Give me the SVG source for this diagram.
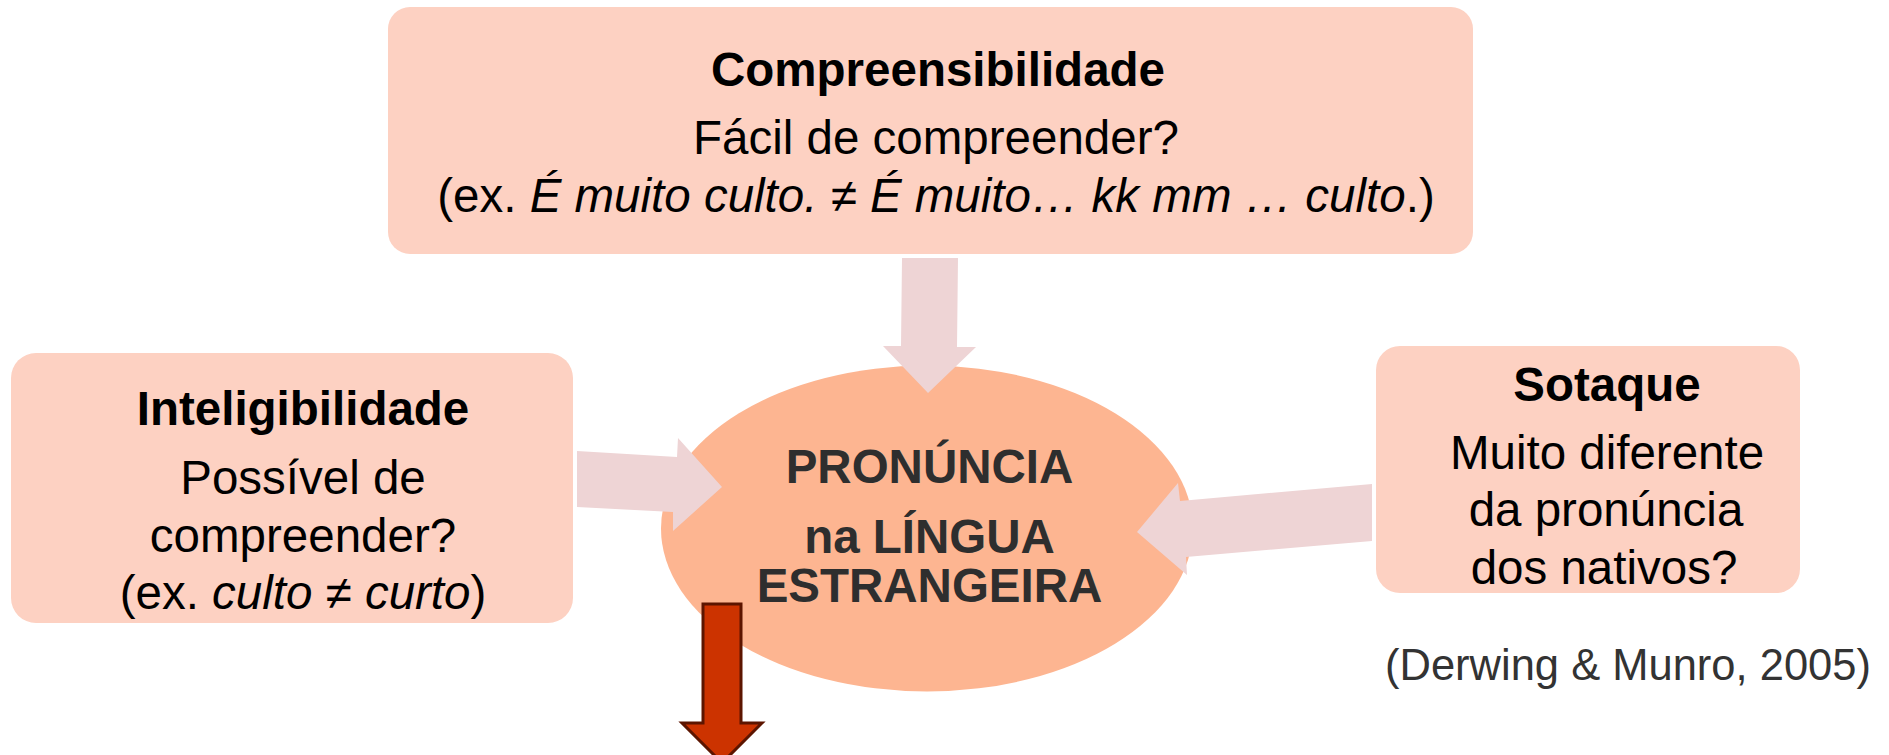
<svg xmlns="http://www.w3.org/2000/svg" width="1889" height="755" viewBox="0 0 1889 755">
<style>
.box{fill:#FDD1C2;}
.ell{fill:#FDB591;}
.t{font-family:"Liberation Sans",Arial,sans-serif;font-size:47.5px;fill:#000;text-anchor:middle;}
.b{font-weight:bold;}
.i{font-style:italic;}
.et{font-family:"Liberation Sans",Arial,sans-serif;font-size:47.5px;font-weight:bold;fill:#2E2E2E;text-anchor:middle;}
.cit{font-family:"Liberation Sans",Arial,sans-serif;font-size:43.5px;fill:#333;text-anchor:middle;}
.conn{fill:#EED4D5;}
.red{fill:#CC3300;stroke:#5C1500;stroke-width:3;stroke-linejoin:miter;}
</style>
<rect width="1889" height="755" fill="#fff"/>
<g id="compreensibilidade">
<rect class="box" x="388" y="7" width="1085" height="247" rx="22"/>
<text class="t b" x="938" y="86">Compreensibilidade</text>
<text class="t" x="936" y="154">Fácil de compreender?</text>
<text class="t" x="936" y="212">(ex. <tspan class="i">É muito culto. ≠ É muito… kk mm … culto</tspan>.)</text>
</g>
<g id="inteligibilidade">
<rect class="box" x="11" y="353" width="562" height="270" rx="25"/>
<text class="t b" x="303" y="425">Inteligibilidade</text>
<text class="t" x="303" y="494">Possível de</text>
<text class="t" x="303" y="552">compreender?</text>
<text class="t" x="303" y="609">(ex. <tspan class="i">culto ≠ curto</tspan>)</text>
</g>
<g id="sotaque">
<rect class="box" x="1376" y="346" width="424" height="247" rx="24"/>
<text class="t b" x="1607" y="401">Sotaque</text>
<text class="t" x="1607" y="469">Muito diferente</text>
<text class="t" x="1606" y="526">da pronúncia</text>
<text class="t" x="1604" y="584">dos nativos?</text>
</g>
<g id="pronuncia">
<ellipse class="ell" cx="927" cy="528.5" rx="266" ry="163"/>
<text class="et" x="929.5" y="483">PRONÚNCIA</text>
<text class="et" x="929.5" y="553">na LÍNGUA</text>
<text class="et" x="929.5" y="602">ESTRANGEIRA</text>
</g>
<g id="citation">
<text class="cit" x="1628" y="680">(Derwing &amp; Munro, 2005)</text>
</g>
<g id="connectors">
<polygon class="conn" points="902,258 958,258 957,347 976,347 928,393 883,346 901,346"/>
<polygon class="conn" points="577,451 677,457 678,438 722,487 673,531 673,512 577,507"/>
<polygon class="conn" points="1372,484 1180,501 1178,483 1137,532 1187,575 1186,557 1372,541"/>
<polygon class="red" points="703,604 741,604 741,723 762,723 722,763 682,723 703,723"/>
</g>
</svg>
